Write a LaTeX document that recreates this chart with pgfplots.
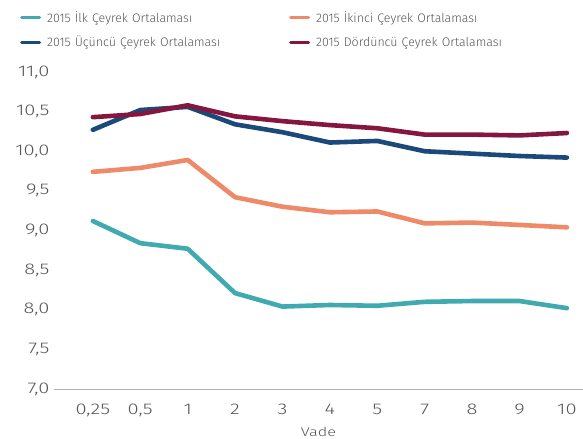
\documentclass[border=0pt]{standalone}
\usepackage{fontspec}
\setmainfont{Fira Sans}[UprightFont=* Light]
\newfontfamily\tickfont{Fira Sans}[UprightFont=* Light, FakeStretch=1.3]
\usepackage{pgfplots}
\pgfplotsset{compat=1.18}
\definecolor{cteal}{RGB}{64,170,176}
\definecolor{corange}{RGB}{238,138,104}
\definecolor{cnavy}{RGB}{27,74,122}
\definecolor{cmaroon}{RGB}{132,22,63}
\definecolor{ctext}{RGB}{85,85,85}
\begin{document}
\begin{tikzpicture}
\begin{axis}[
  name=ax,
  scale only axis, width=529bp, height=317bp,
  xmin=-0.82, xmax=10.34, ymin=7, ymax=11,
  xtick={0,...,10},
  xticklabels={{0,25},{0,5},1,2,3,4,5,7,8,9,10},
  ytick={7,7.5,...,11},
  yticklabel={\pgfmathprintnumber[fixed,fixed zerofill,precision=1,use comma,assume math mode=true]{\tick}},
  axis x line*=bottom, axis y line*=left,
  y axis line style={draw=none},
  x axis line style={draw=black!30, line width=1bp, -},
  tick style={draw=none},
  major tick length=0pt,
  tick label style={font=\tickfont\fontsize{15.5bp}{18bp}\selectfont, text=ctext},
  xticklabel style={yshift=-12bp},
  yticklabel style={xshift=-1bp},
  xlabel={Vade},
  xlabel style={font=\tickfont\fontsize{12.5bp}{14bp}\selectfont, text=ctext, yshift=-5bp, inner sep=1bp},
  legend columns=2,
  legend style={at={(-0.0643,1.197)}, anchor=north west, draw=none, fill=none, inner sep=0pt,
    font=\fontsize{12.4bp}{14bp}\selectfont, text=ctext, row sep=8bp,
    nodes={text width=236bp, inner xsep=6bp, anchor=west}},
  legend cell align=left,
  legend image code/.code={\draw[#1, line width=3bp] (0bp,0bp) -- (18bp,0bp);},
  every axis plot/.append style={line width=4.6bp, line join=round, line cap=round},
]
\addplot[cteal] coordinates {(0,9.12) (1,8.84) (2,8.77) (3,8.21) (4,8.04) (5,8.06) (6,8.05) (7,8.10) (8,8.11) (9,8.11) (10,8.02)};
\addlegendentry{2015 İlk Çeyrek Ortalaması}
\addplot[corange] coordinates {(0,9.74) (1,9.79) (2,9.89) (3,9.42) (4,9.30) (5,9.23) (6,9.24) (7,9.09) (8,9.10) (9,9.07) (10,9.04)};
\addlegendentry{2015 İkinci Çeyrek Ortalaması}
\addplot[cnavy] coordinates {(0,10.27) (1,10.52) (2,10.56) (3,10.34) (4,10.24) (5,10.11) (6,10.13) (7,10.00) (8,9.97) (9,9.94) (10,9.92)};
\addlegendentry{2015 Üçüncü Çeyrek Ortalaması}
\addplot[cmaroon] coordinates {(0,10.43) (1,10.47) (2,10.58) (3,10.44) (4,10.38) (5,10.33) (6,10.29) (7,10.21) (8,10.21) (9,10.20) (10,10.23)};
\addlegendentry{2015 Dördüncü Çeyrek Ortalaması}
\end{axis}
\pgfresetboundingbox
\path ([xshift=-54bp,yshift=-50bp]ax.south west) rectangle ([yshift=72bp]ax.north east);
\end{tikzpicture}
\end{document}
